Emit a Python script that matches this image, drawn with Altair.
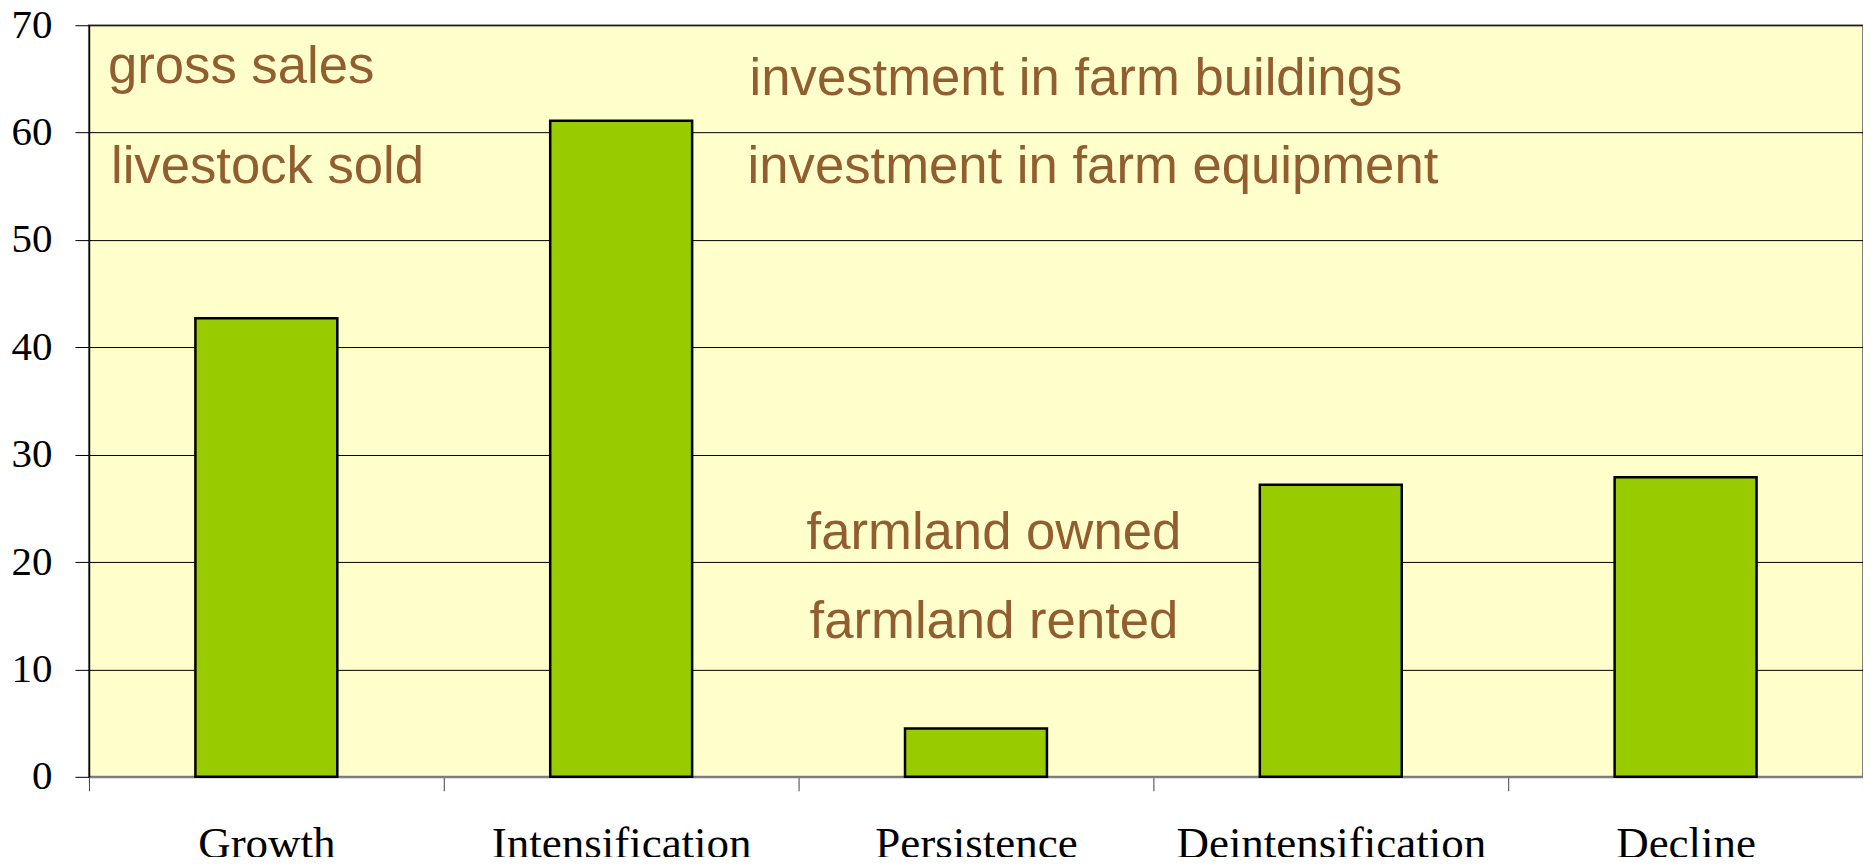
import altair as alt
import pandas as pd

# Data
categories = ["Growth", "Intensification", "Persistence", "Deintensification", "Decline"]
values = [42.7, 61.1, 4.5, 27.2, 27.9]

# Annotation texts
notes = [
    "gross sales",
    "livestock sold",
    "investment in farm buildings",
    "investment in farm equipment",
    "farmland owned",
    "farmland rented",
]
# baseline of each note in data units (y) and left edge in pixels (x)
note_y = [64.6, 55.3, 63.5, 55.3, 21.2, 12.9]
note_x = [19, 22, 661, 659, 718, 721]

df = pd.DataFrame({"category": categories, "value": values})

W, H = 1775, 752
SERIF = "Liberation Serif"
SANS = "Liberation Sans"
BROWN = "#925D31"

bars = alt.Chart(df).mark_bar(
    width=alt.RelativeBandSize(0.4),
    color="#99CC00",
    stroke="black",
    strokeWidth=2.5,
).encode(
    x=alt.X(
        "category:N",
        sort=categories,
        scale=alt.Scale(paddingInner=0, paddingOuter=0),
        axis=alt.Axis(
            title=None,
            labelAngle=0,
            grid=False,
            tickBand="extent",
            tickSize=14,
            tickColor="#404040",
            tickWidth=1,
            domainColor="#808080",
            domainWidth=2,
            labelFont=SERIF,
            labelFontSize=45,
            labelColor="black",
            labelBaseline="alphabetic",
            labelPadding=67,
            labelLimit=0,
        ),
    ),
    y=alt.Y(
        "value:Q",
        scale=alt.Scale(domain=[0, 70], nice=False, zero=True),
        axis=alt.Axis(
            title=None,
            values=list(range(0, 71, 10)),
            grid=True,
            gridColor="black",
            gridWidth=1,
            gridOpacity=1,
            tickSize=14,
            tickColor="black",
            tickWidth=1,
            domainColor="black",
            domainWidth=1.5,
            labelFont=SERIF,
            labelFontSize=41,
            labelColor="black",
            labelPadding=23,
        ),
    ),
)

layers = [bars]
for t, nx, ny in zip(notes, note_x, note_y):
    layers.append(
        alt.Chart(pd.DataFrame({"t": [t]})).mark_text(
            font=SANS,
            fontSize=52.7,
            color=BROWN,
            align="left",
            baseline="alphabetic",
        ).encode(
            text="t:N",
            x=alt.value(nx),
            y=alt.datum(ny),
        )
    )

chart = alt.layer(*layers).properties(
    width=W,
    height=H,
    autosize=alt.AutoSizeParams(type="none"),
    padding={"left": 81, "top": 17, "right": 0, "bottom": 80},
    background="white",
).configure_view(
    fill="#FFFFCC",
    stroke="#808080",
    strokeWidth=2,
)

chart.save("out.html", embed_options={"renderer": "svg", "actions": False})
